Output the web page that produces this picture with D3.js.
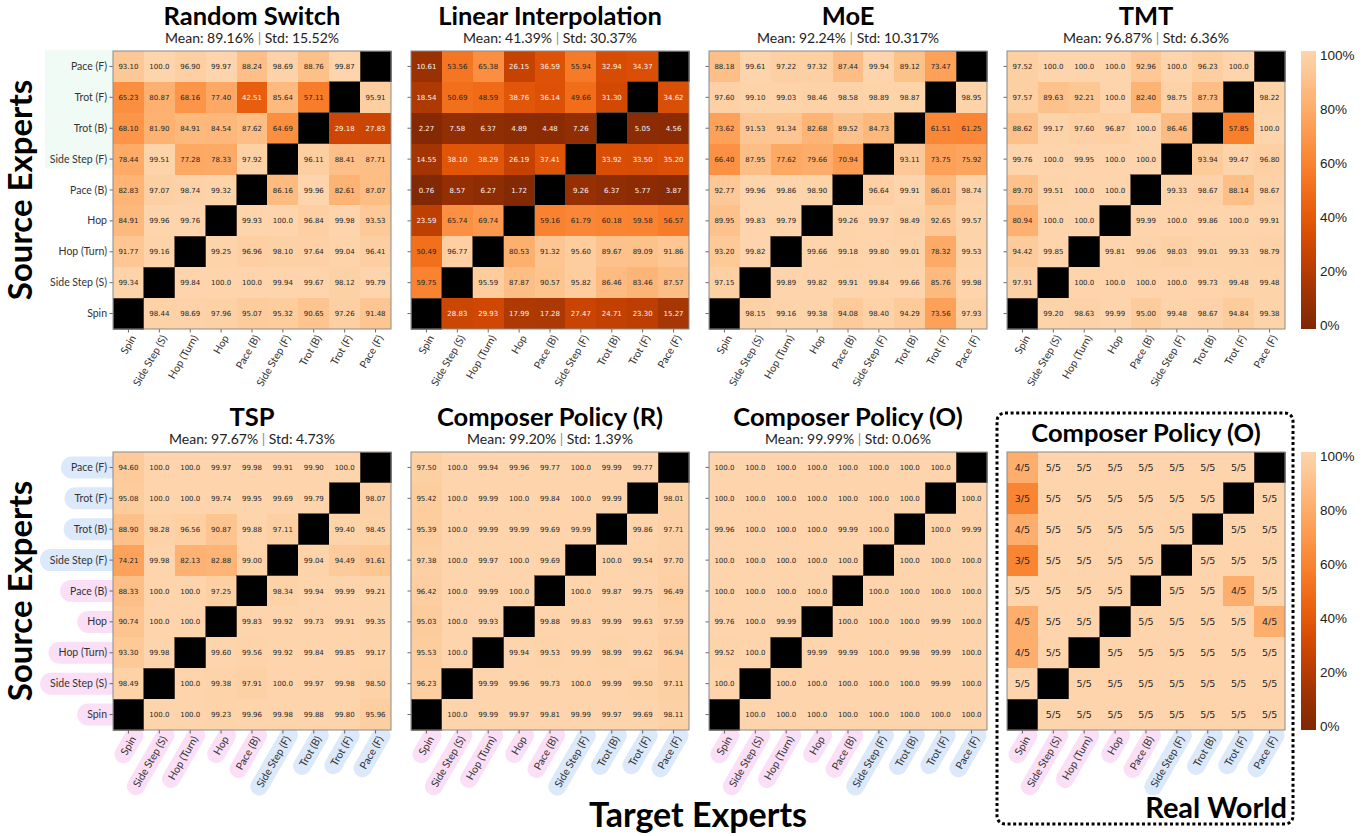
<!DOCTYPE html>
<html>
<head>
<meta charset="utf-8">
<script src="https://cdn.jsdelivr.net/npm/d3@7"></script>
<style>
  body { margin: 0; background: #fff; }
  svg { display: block; }
  .tick text { font-family: Lato, "Open Sans", sans-serif; font-size: 10.5px; fill: #333; }
  .cell-label { font-family: "DejaVu Sans", sans-serif; font-size: 7px; }
  .rw-label { font-family: "DejaVu Sans", sans-serif; font-size: 9.5px; fill: #262626; }
  .title { font-family: Lato, sans-serif; font-weight: 700; font-size: 25.5px; fill: #000; }
  .stats { font-family: Lato, sans-serif; font-size: 14px; fill: #222; }
  .big { font-family: Lato, sans-serif; font-weight: 700; font-size: 33px; fill: #000; }
  .cb-label { font-family: "Liberation Sans", Arial, sans-serif; font-size: 13.5px; fill: #222; }
</style>
</head>
<body>
<svg id="chart" width="1366" height="836"></svg>
<script>
// Expert names: columns are targets, rows are sources (top to bottom)
const targets = ["Spin", "Side Step (S)", "Hop (Turn)", "Hop", "Pace (B)", "Side Step (F)", "Trot (B)", "Trot (F)", "Pace (F)"];
const sources = ["Pace (F)", "Trot (F)", "Trot (B)", "Side Step (F)", "Pace (B)", "Hop", "Hop (Turn)", "Side Step (S)", "Spin"];
// experts shown with the blue tag; the rest get the pink tag
const blueGroup = ["Pace (F)", "Trot (F)", "Trot (B)", "Side Step (F)"];

// transfer success rates (%), null = same expert
const randomSwitch = [
  [93.10, 100.0, 96.90, 99.97, 88.24, 98.69, 88.76, 99.87, null],
  [65.23, 80.87, 68.16, 77.40, 42.51, 85.64, 57.11, null, 95.91],
  [68.10, 81.90, 84.91, 84.54, 87.62, 64.69, null, 29.18, 27.83],
  [78.44, 99.51, 77.28, 78.33, 97.92, null, 96.11, 88.41, 87.71],
  [82.83, 97.07, 98.74, 99.32, null, 86.16, 99.96, 82.61, 87.07],
  [84.91, 99.96, 99.76, null, 99.93, 100.0, 96.84, 99.98, 93.53],
  [91.77, 99.16, null, 99.25, 96.96, 98.10, 97.64, 99.04, 96.41],
  [99.34, null, 99.84, 100.0, 100.0, 99.94, 99.67, 98.12, 99.79],
  [null, 98.44, 98.69, 97.96, 95.07, 95.32, 90.65, 97.26, 91.48]
];
const linearInterp = [
  [10.61, 53.56, 65.38, 26.15, 36.59, 55.94, 32.94, 34.37, null],
  [18.54, 50.69, 48.59, 38.76, 36.14, 49.66, 31.30, null, 34.62],
  [2.27, 7.58, 6.37, 4.89, 4.48, 7.26, null, 5.05, 4.56],
  [14.55, 38.10, 38.29, 26.19, 37.41, null, 33.92, 33.50, 35.20],
  [0.76, 8.57, 6.27, 1.72, null, 9.26, 6.37, 5.77, 3.87],
  [23.59, 65.74, 69.74, null, 59.16, 61.79, 60.18, 59.58, 56.57],
  [50.49, 96.77, null, 80.53, 91.32, 95.60, 89.67, 89.09, 91.86],
  [59.75, null, 95.59, 87.87, 90.57, 95.82, 86.46, 83.46, 87.57],
  [null, 28.83, 29.93, 17.99, 17.28, 27.47, 24.71, 23.30, 15.27]
];
const moe = [
  [88.18, 99.61, 97.22, 97.32, 87.44, 99.94, 89.12, 73.47, null],
  [97.60, 99.10, 99.03, 98.46, 98.58, 98.89, 98.87, null, 98.95],
  [73.62, 91.53, 91.34, 82.68, 89.52, 84.73, null, 61.51, 61.25],
  [66.40, 87.95, 77.62, 79.66, 70.94, null, 93.11, 73.75, 75.92],
  [92.77, 99.96, 99.86, 98.90, null, 96.64, 99.91, 86.01, 98.74],
  [89.95, 99.83, 99.79, null, 99.26, 99.97, 98.49, 92.65, 99.57],
  [93.20, 99.82, null, 99.66, 99.18, 99.80, 99.01, 78.32, 99.53],
  [97.15, null, 99.89, 99.82, 99.91, 99.84, 99.66, 85.76, 99.98],
  [null, 98.15, 99.16, 99.38, 94.08, 98.40, 94.29, 73.56, 97.93]
];
const tmt = [
  [97.52, 100.0, 100.0, 100.0, 92.96, 100.0, 96.23, 100.0, null],
  [97.57, 89.63, 92.21, 100.0, 82.40, 98.75, 87.73, null, 98.22],
  [88.62, 99.17, 97.60, 96.87, 100.0, 86.46, null, 57.85, 100.0],
  [99.76, 100.0, 99.95, 100.0, 100.0, null, 93.94, 99.47, 96.80],
  [89.70, 99.51, 100.0, 100.0, null, 99.33, 98.67, 88.14, 98.67],
  [80.94, 100.0, 100.0, null, 99.99, 100.0, 99.86, 100.0, 99.91],
  [94.42, 99.85, null, 99.81, 99.06, 98.03, 99.01, 99.33, 98.79],
  [97.91, null, 100.0, 100.0, 100.0, 100.0, 99.73, 99.48, 99.48],
  [null, 99.20, 98.63, 99.99, 95.00, 99.48, 98.67, 94.84, 99.38]
];
const tsp = [
  [94.60, 100.0, 100.0, 99.97, 99.98, 99.91, 99.90, 100.0, null],
  [95.08, 100.0, 100.0, 99.74, 99.95, 99.69, 99.79, null, 98.07],
  [88.90, 98.28, 96.56, 90.87, 99.88, 97.11, null, 99.40, 98.45],
  [74.21, 99.98, 82.13, 82.88, 99.00, null, 99.04, 94.49, 91.61],
  [88.33, 100.0, 100.0, 97.25, null, 98.34, 99.94, 99.99, 99.21],
  [90.74, 100.0, 100.0, null, 99.83, 99.92, 99.73, 99.91, 99.35],
  [93.30, 99.98, null, 99.60, 99.56, 99.92, 99.84, 99.85, 99.17],
  [98.49, null, 100.0, 99.38, 97.91, 100.0, 99.97, 99.98, 98.50],
  [null, 100.0, 100.0, 99.23, 99.96, 99.98, 99.88, 99.80, 95.96]
];
const composerR = [
  [97.50, 100.0, 99.94, 99.96, 99.77, 100.0, 99.99, 99.77, null],
  [95.42, 100.0, 99.99, 100.0, 99.84, 100.0, 99.99, null, 98.01],
  [95.39, 100.0, 99.99, 99.99, 99.69, 99.99, null, 99.86, 97.71],
  [97.38, 100.0, 99.97, 100.0, 99.69, null, 100.0, 99.54, 97.70],
  [96.42, 100.0, 99.99, 100.0, null, 100.0, 99.87, 99.75, 96.49],
  [95.03, 100.0, 99.93, null, 99.88, 99.83, 99.99, 99.63, 97.59],
  [95.53, 100.0, null, 99.94, 99.53, 99.99, 98.99, 99.62, 96.94],
  [96.23, null, 99.99, 99.96, 99.73, 100.0, 99.99, 99.50, 97.11],
  [null, 100.0, 99.99, 99.97, 99.81, 99.99, 99.97, 99.69, 98.11]
];
const composerO = [
  [100.0, 100.0, 100.0, 100.0, 100.0, 100.0, 100.0, 100.0, null],
  [100.0, 100.0, 100.0, 100.0, 100.0, 100.0, 100.0, null, 100.0],
  [99.96, 100.0, 100.0, 100.0, 99.99, 100.0, null, 100.0, 99.99],
  [100.0, 100.0, 100.0, 100.0, 100.0, null, 100.0, 100.0, 100.0],
  [100.0, 100.0, 100.0, 100.0, null, 100.0, 100.0, 100.0, 100.0],
  [99.76, 100.0, 99.99, null, 100.0, 100.0, 100.0, 99.99, 100.0],
  [99.52, 100.0, null, 99.99, 99.99, 100.0, 99.98, 99.99, 100.0],
  [100.0, null, 100.0, 100.0, 100.0, 100.0, 100.0, 99.99, 100.0],
  [null, 100.0, 100.0, 100.0, 100.0, 100.0, 100.0, 100.0, 100.0]
];
// hardware runs: successful transitions out of 5 trials
const realWorldTrials = 5;
const realWorldSuccess = [
  [4, 5, 5, 5, 5, 5, 5, 5, null],
  [3, 5, 5, 5, 5, 5, 5, null, 5],
  [4, 5, 5, 5, 5, 5, null, 5, 5],
  [3, 5, 5, 5, 5, null, 5, 5, 5],
  [5, 5, 5, 5, null, 5, 5, 4, 5],
  [4, 5, 5, null, 5, 5, 5, 5, 4],
  [4, 5, null, 5, 5, 5, 5, 5, 5],
  [5, null, 5, 5, 5, 5, 5, 5, 5],
  [null, 5, 5, 5, 5, 5, 5, 5, 5]
];

const panelTitles = ["Random Switch", "Linear Interpolation", "MoE", "TMT", "TSP", "Composer Policy (R)", "Composer Policy (O)", "Composer Policy (O)"];
const panelMeans = ["89.16%", "41.39%", "92.24%", "96.87%", "97.67%", "99.20%", "99.99%", null];
const panelStds = ["15.52%", "30.37%", "10.317%", "6.36%", "4.73%", "1.39%", "0.06%", null];
const colorbarTicks = [0, 20, 40, 60, 80, 100];

// ---------------------------------------------------------------- layout
const svg = d3.select("#chart");
const SIZE = 278;
const colLeft = [113, 411, 709, 1007];
const rowTop = [51, 452];
const PINK = "#fbdff6", BLUE = "#dbe9fb";

const tParam = d3.scaleLinear().domain([0, 100]).range([1, 0.22]);
const fillFor = v => d3.interpolateOranges(tParam(v));
const fmt = v => v >= 100 ? v.toFixed(1) : v.toFixed(2);

const panels = [
  { m: randomSwitch, r: 0, c: 0, yLabels: "mint" },
  { m: linearInterp, r: 0, c: 1 },
  { m: moe, r: 0, c: 2 },
  { m: tmt, r: 0, c: 3, colorbar: true },
  { m: tsp, r: 1, c: 0, yLabels: "pill" },
  { m: composerR, r: 1, c: 1 },
  { m: composerO, r: 1, c: 2 },
  { m: realWorldSuccess, r: 1, c: 3, colorbar: true, real: true, noYTicks: true }
];

panels.forEach((p, idx) => {
  const left = colLeft[p.c], top = rowTop[p.r];
  const x = d3.scaleBand().domain(targets).range([left, left + SIZE]);
  const y = d3.scaleBand().domain(sources).range([top, top + SIZE]);
  const g = svg.append("g");

  // title + stats line
  const cx = left + SIZE / 2;
  if (p.real) {
    g.append("text").attr("class", "title").attr("x", cx).attr("y", top - 10)
      .attr("text-anchor", "middle").text(panelTitles[idx]);
  } else {
    g.append("text").attr("class", "title").attr("x", cx).attr("y", top - 26)
      .attr("text-anchor", "middle").text(panelTitles[idx]);
    const st = g.append("text").attr("class", "stats").attr("x", cx).attr("y", top - 8)
      .attr("text-anchor", "middle");
    st.append("tspan").text(`Mean: ${panelMeans[idx]} `);
    st.append("tspan").attr("fill", "#8c8c8c").text("|");
    st.append("tspan").text(` Std: ${panelStds[idx]}`);
  }

  // highlight band behind the first four source labels
  if (p.yLabels === "mint") {
    g.append("rect").attr("x", 45).attr("y", top - 1)
      .attr("width", left - 45).attr("height", y("Side Step (F)") + y.bandwidth() * 0.8 - top + 1)
      .attr("fill", "#f1fbf5");
  }

  // y axis
  if (!p.noYTicks) {
    const ax = d3.axisLeft(y).tickSize(3.5).tickPadding(2.5);
    if (!p.yLabels) ax.tickFormat("");
    const ga = g.append("g").attr("transform", `translate(${left},0)`).call(ax);
    ga.select(".domain").remove();
    ga.selectAll(".tick line").attr("stroke", "#444").attr("stroke-width", 0.8);
    ga.selectAll(".tick text").attr("dy", "0.34em");
    if (p.yLabels === "pill") {
      ga.selectAll(".tick").each(function (d) {
        const tick = d3.select(this);
        const w = tick.select("text").node().getComputedTextLength();
        tick.insert("rect", ":first-child")
          .attr("x", -6 - w - 10).attr("y", -11)
          .attr("width", w + 16 + 12).attr("height", 22).attr("rx", 11)
          .attr("fill", blueGroup.includes(d) ? BLUE : PINK);
      });
    }
  }

  // x axis
  const xa = d3.axisBottom(x).tickSize(3.5);
  const gx = g.append("g").attr("transform", `translate(0,${top + SIZE})`).call(xa);
  gx.select(".domain").remove();
  gx.selectAll(".tick line").attr("stroke", "#444").attr("stroke-width", 0.8);
  gx.selectAll(".tick text")
    .attr("x", 0).attr("y", 0).attr("dy", "0.34em")
    .attr("text-anchor", "end")
    .attr("transform", "translate(5,7) rotate(-60)");
  if (p.r === 1) {
    gx.selectAll(".tick").each(function (d) {
      const tick = d3.select(this);
      const w = tick.select("text").node().getComputedTextLength();
      tick.insert("rect", ":first-child")
        .attr("transform", "translate(5,7) rotate(-60)")
        .attr("x", -w - 9).attr("y", -9)
        .attr("width", w + 9 + 11).attr("height", 18).attr("rx", 9)
        .attr("fill", blueGroup.includes(d) ? BLUE : PINK);
    });
  }

  // cells
  const cells = [];
  sources.forEach((s, i) => targets.forEach((t, j) => {
    const raw = p.m[i][j];
    const v = raw == null ? null : (p.real ? raw / realWorldTrials * 100 : raw);
    cells.push({ s, t, raw, v });
  }));
  const gc = g.append("g");
  gc.selectAll("rect").data(cells).join("rect")
    .attr("x", d => x(d.t)).attr("y", d => y(d.s))
    .attr("width", x.bandwidth()).attr("height", y.bandwidth())
    .attr("fill", d => d.v == null ? "#000" : fillFor(d.v))
    .attr("stroke", d => d.v == null ? "#5a4636" : "none")
    .attr("stroke-width", 0.8)
    .attr("shape-rendering", "crispEdges");
  gc.selectAll("text").data(cells.filter(d => d.v != null)).join("text")
    .attr("class", p.real ? "rw-label" : "cell-label")
    .attr("x", d => x(d.t) + x.bandwidth() / 2)
    .attr("y", d => y(d.s) + y.bandwidth() / 2)
    .attr("dy", "0.36em").attr("text-anchor", "middle")
    .attr("fill", d => p.real ? "#262626" : (d.v < 45 ? "#f4f4f4" : "#262626"))
    .text(d => p.real ? `${d.raw}/${realWorldTrials}` : fmt(d.raw));

  // frame
  g.append("rect").attr("x", left).attr("y", top).attr("width", SIZE).attr("height", SIZE)
    .attr("fill", "none").attr("stroke", "#8a8a8a").attr("stroke-width", 1);

  // colorbar
  if (p.colorbar) {
    const cbX = 1301, cbW = 15;
    const gid = `cbgrad${idx}`;
    const grad = svg.append("defs").append("linearGradient").attr("id", gid)
      .attr("x1", 0).attr("y1", 1).attr("x2", 0).attr("y2", 0);
    d3.range(0, 101, 5).forEach(v => grad.append("stop")
      .attr("offset", `${v}%`).attr("stop-color", fillFor(v)));
    g.append("rect").attr("x", cbX).attr("y", top).attr("width", cbW).attr("height", SIZE)
      .attr("fill", `url(#${gid})`);
    const cbLab = d3.scaleLinear().domain([0, 100]).range([top + SIZE - 4, top + 4]);
    g.selectAll(".cb-label").data(colorbarTicks).join("text")
      .attr("class", "cb-label").attr("x", cbX + cbW + 4)
      .attr("y", d => cbLab(d)).attr("dy", "0.36em")
      .text(d => `${d}%`);
  }
});

// axis titles
[rowTop[0], rowTop[1]].forEach(top => {
  svg.append("text").attr("class", "big")
    .attr("transform", `translate(32,${top + SIZE / 2}) rotate(-90)`)
    .attr("text-anchor", "middle").text("Source Experts");
});
svg.append("text").attr("class", "big").attr("x", 698).attr("y", 827)
  .attr("text-anchor", "middle").style("font-size", "34px").text("Target Experts");

// dotted frame around the hardware panel
svg.append("rect").attr("x", 997).attr("y", 413).attr("width", 296).attr("height", 411)
  .attr("rx", 8).attr("fill", "none").attr("stroke", "#000")
  .attr("stroke-width", 3).attr("stroke-dasharray", "3 2.6");
svg.append("text").attr("class", "big").attr("x", 1287).attr("y", 818)
  .attr("text-anchor", "end").style("font-size", "29px").text("Real World");
</script>
</body>
</html>
